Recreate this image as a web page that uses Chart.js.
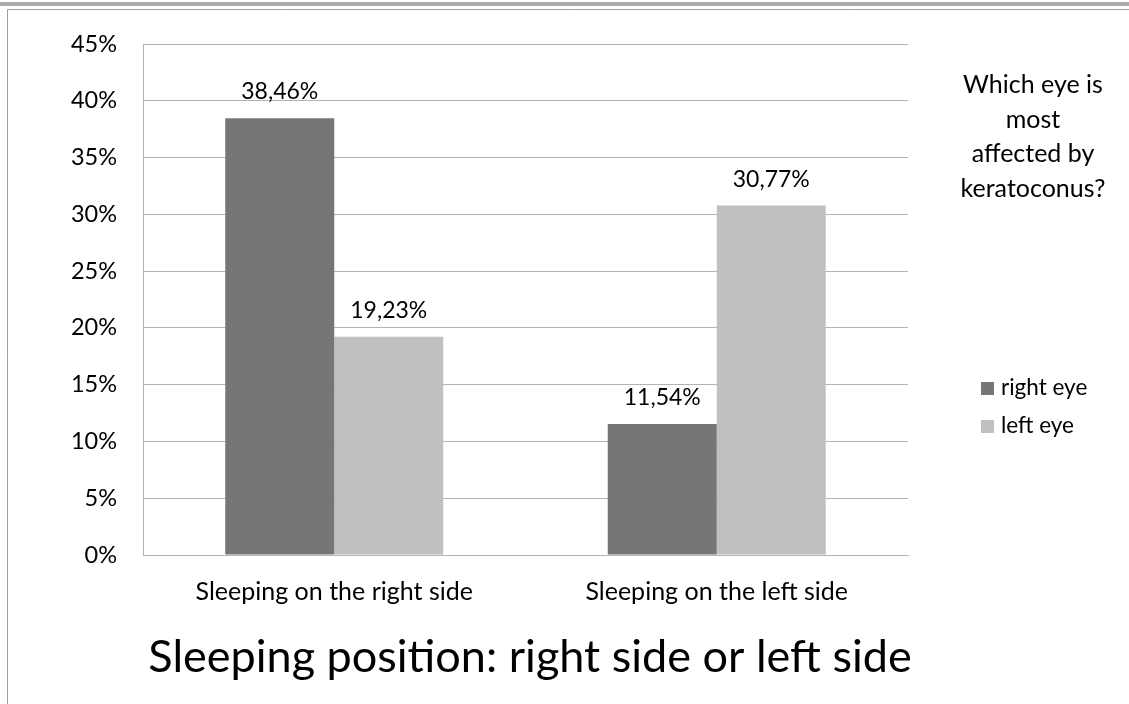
<!DOCTYPE html>
<html>
<head>
<meta charset="utf-8">
<script src="https://cdn.jsdelivr.net/npm/chart.js@4/dist/chart.umd.min.js"></script>
<style>
  html, body { margin: 0; padding: 0; background: #fff; }
  #wrap { width: 1129px; height: 704px; position: relative; }
</style>
</head>
<body>
<div id="wrap"><canvas id="c" width="1129" height="704"></canvas></div>
<script>
// Categories, series and axis labels
const categories = ['Sleeping on the right side', 'Sleeping on the left side'];
const rightEye = [38.46, 11.54];
const leftEye = [19.23, 30.77];
const seriesNames = ['right eye', 'left eye'];
const seriesColors = ['#767676', '#c0c0c0'];
const yTicks = [0, 5, 10, 15, 20, 25, 30, 35, 40, 45];
const chartTitle = 'Sleeping position: right side or left side';
const sideNote = ['Which eye is', 'most', 'affected by', 'keratoconus?'];

const FONT = 'Lato, "Open Sans", sans-serif';

function fmt(v) {
  return v.toFixed(2).replace('.', ',') + '%';
}

// Outer frame of the chart sheet
const framePlugin = {
  id: 'frame',
  beforeDraw(chart) {
    const ctx = chart.ctx;
    ctx.save();
    ctx.fillStyle = '#ffffff';
    ctx.fillRect(0, 0, chart.width, chart.height);
    ctx.fillStyle = '#ababab';
    ctx.fillRect(0, 2, chart.width, 4);
    ctx.strokeStyle = '#a0a0a0';
    ctx.lineWidth = 1;
    ctx.beginPath();
    ctx.moveTo(7.5, chart.height);
    ctx.lineTo(7.5, 9.5);
    ctx.lineTo(chart.width, 9.5);
    ctx.stroke();
    ctx.restore();
  }
};

// Value labels above bars, side note, legend and bottom title
const decorPlugin = {
  id: 'decor',
  afterDatasetsDraw(chart) {
    const ctx = chart.ctx;
    ctx.save();
    ctx.fillStyle = '#000';
    ctx.font = '23px ' + FONT;
    ctx.textAlign = 'center';
    ctx.textBaseline = 'alphabetic';
    chart.data.datasets.forEach((ds, i) => {
      const meta = chart.getDatasetMeta(i);
      meta.data.forEach((bar, j) => {
        ctx.fillText(fmt(ds.data[j]), bar.x, bar.y - 19);
      });
    });

    // side note
    ctx.font = '25px ' + FONT;
    sideNote.forEach((line, k) => {
      ctx.fillText(line, 1033, 93 + k * 34.5);
    });

    // legend
    ctx.font = '22.5px ' + FONT;
    ctx.textAlign = 'left';
    chart.data.datasets.forEach((ds, i) => {
      const base = 395 + i * 38;
      ctx.fillStyle = ds.backgroundColor;
      ctx.fillRect(981, base - 13, 13, 13);
      ctx.fillStyle = '#000';
      ctx.fillText(ds.label, 1001, base);
    });

    // bottom title
    ctx.font = '45px ' + FONT;
    ctx.textAlign = 'center';
    ctx.fillText(chartTitle, 530, 672);
    ctx.restore();
  }
};

new Chart(document.getElementById('c'), {
  type: 'bar',
  data: {
    labels: categories,
    datasets: [
      { label: seriesNames[0], data: rightEye, backgroundColor: seriesColors[0] },
      { label: seriesNames[1], data: leftEye, backgroundColor: seriesColors[1] }
    ]
  },
  options: {
    responsive: false,
    animation: false,
    devicePixelRatio: 1,
    layout: { padding: { top: 44, right: 221, bottom: 0, left: 0 } },
    datasets: { bar: { categoryPercentage: 0.57, barPercentage: 1.0 } },
    plugins: {
      legend: { display: false },
      title: { display: false },
      tooltip: { enabled: false }
    },
    scales: {
      x: {
        grid: { display: false, drawTicks: false },
        border: { display: true, color: '#b3b3b3', width: 1 },
        ticks: { color: '#000', font: { family: FONT, size: 25 }, padding: 22, maxRotation: 0 },
        afterFit(s) { s.height = 149; }
      },
      y: {
        min: 0, max: 45,
        afterBuildTicks(s) { s.ticks = yTicks.map(v => ({ value: v })); },
        grid: { color: '#b3b3b3', drawTicks: false },
        border: { display: true, color: '#b3b3b3', width: 1 },
        ticks: { color: '#000', font: { family: FONT, size: 23.5 }, padding: 26, callback: v => v + '%' },
        afterFit(s) { s.width = 143; }
      }
    }
  },
  plugins: [framePlugin, decorPlugin]
});
</script>
</body>
</html>
